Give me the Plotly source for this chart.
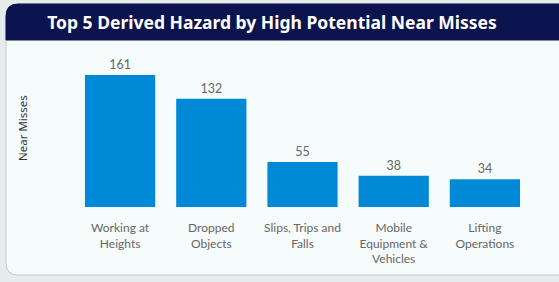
import plotly.graph_objects as go

categories = ["Working at Heights", "Dropped Objects", "Slips, Trips and Falls",
              "Mobile Equipment & Vehicles", "Lifting Operations"]
tick_labels = ["Working at<br>Heights", "Dropped<br>Objects", "Slips, Trips and<br>Falls",
               "Mobile<br>Equipment &<br>Vehicles", "Lifting<br>Operations"]
near_misses = [161, 132, 55, 38, 34]

W, H = 559, 282
FONT = "Segoe UI, Noto Sans, Open Sans, sans-serif"
TICK_FONT = "Segoe UI, Lato, sans-serif"


def px(x):
    return x / W


def py(y):
    return 1 - y / H


def rounded_path(x0, y0, x1, y1, r_top, r_bot):
    pts = []
    pts.append(f"M {px(x0)},{py(y0 + r_top)}")
    pts.append(f"Q {px(x0)},{py(y0)} {px(x0 + r_top)},{py(y0)}")
    pts.append(f"L {px(x1 - r_top)},{py(y0)}")
    pts.append(f"Q {px(x1)},{py(y0)} {px(x1)},{py(y0 + r_top)}")
    pts.append(f"L {px(x1)},{py(y1 - r_bot)}")
    if r_bot:
        pts.append(f"Q {px(x1)},{py(y1)} {px(x1 - r_bot)},{py(y1)}")
    pts.append(f"L {px(x0 + r_bot)},{py(y1)}")
    if r_bot:
        pts.append(f"Q {px(x0)},{py(y1)} {px(x0)},{py(y1 - r_bot)}")
    pts.append("Z")
    return " ".join(pts)


fig = go.Figure(go.Bar(
    x=categories,
    y=near_misses,
    marker=dict(color="#0089d6", line=dict(width=0)),
    text=near_misses,
    textposition="outside",
    textfont=dict(color="#666666", size=12.5, family=TICK_FONT),
    cliponaxis=False,
    hoverinfo="x+y",
))

shapes = [
    # card body
    dict(type="path", xref="paper", yref="paper", layer="below",
         path=rounded_path(6, 4, 572, 275, 12, 12),
         fillcolor="#f6fbfb", line=dict(color="#c4c9c9", width=1)),
    # title bar
    dict(type="path", xref="paper", yref="paper", layer="below",
         path=rounded_path(6, 4, 572, 40, 12, 0),
         fillcolor="#0c1450", line=dict(color="#0c1450", width=1)),
]

fig.update_layout(
    width=W, height=H,
    margin=dict(l=0, r=0, t=0, b=0),
    paper_bgcolor="#e6ecec",
    plot_bgcolor="rgba(0,0,0,0)",
    bargap=0.23,
    showlegend=False,
    shapes=shapes,
    title=dict(text="<b>Top 5 Derived Hazard by High Potential Near Misses</b>",
               x=px(272), xanchor="center", y=py(23), yanchor="middle",
               font=dict(color="white", size=17.5, family=FONT)),
    xaxis=dict(domain=[px(74.5), px(530.5)], tickmode="array",
               tickvals=categories, ticktext=tick_labels,
               tickfont=dict(color="#666666", size=12, family=TICK_FONT),
               ticklabelstandoff=12,
               showgrid=False, showline=False, zeroline=False, ticks="",
               automargin=False),
    yaxis=dict(domain=[py(207), py(45)], range=[0, 197.6],
               showticklabels=False, showgrid=False, zeroline=False,
               showline=False, automargin=False),
    annotations=[dict(text="Near Misses", textangle=-90, x=px(22), y=py(128),
                      xref="paper", yref="paper", showarrow=False,
                      xanchor="center", yanchor="middle",
                      font=dict(color="#333333", size=11.5, family=FONT))],
)

fig.write_html("out.html",
               config={"displayModeBar": False},
               post_script="document.body.style.margin='0';document.body.style.overflow='hidden';")
